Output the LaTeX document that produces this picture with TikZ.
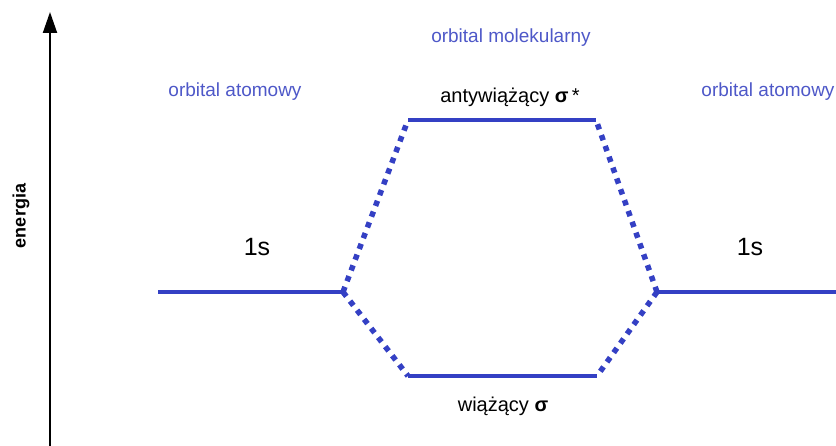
\documentclass[tikz,border=0pt]{standalone}
\usepackage{fontspec}
\setmainfont{Liberation Sans}
\usetikzlibrary{arrows.meta}
\definecolor{lineblue}{RGB}{52,64,196}
\definecolor{textblue}{RGB}{78,88,200}
\tikzset{
  level/.style={draw=lineblue, line width=4pt},
  link/.style={draw=lineblue, line width=5.5pt, dash pattern=on 5.5pt off 6pt},
  bluelabel/.style={text=textblue, font=\fontsize{19}{22}\selectfont, inner sep=0pt, anchor=base},
  blacklabel/.style={text=black, font=\fontsize{20}{24}\selectfont, inner sep=0pt, anchor=base},
  axis/.style={draw=black, line width=2pt, -{Triangle[width=14pt,length=21pt]}}
}
\begin{document}
\begin{tikzpicture}[x=1pt,y=-1pt]
\useasboundingbox (0,0) rectangle (836,446);
% energy axis
\coordinate (ax0) at (50,446);
\coordinate (ax1) at (50,12);
\draw[axis] (ax0) -- (ax1);
\node[rotate=90, font=\fontsize{18}{21}\selectfont\bfseries, inner sep=0pt] (en) at (21,216) {energia};
% levels
\coordinate (L1) at (158,292);
\coordinate (L2) at (343,292);
\coordinate (T1) at (408,120);
\coordinate (T2) at (596,120);
\coordinate (B1) at (408,376);
\coordinate (B2) at (597,376);
\coordinate (R1) at (657,292);
\coordinate (R2) at (840,292);
\draw[link] (L2) -- (T1);
\draw[link] (L2) -- (B1);
\draw[link] (R1) -- (T2);
\draw[link] (R1) -- (B2);
\draw[level] (L1) -- (L2);
\draw[level] (R1) -- (R2);
\draw[level] (T1) -- (T2);
\draw[level] (B1) -- (B2);
% labels
\node[bluelabel] (mo) at (511,43) {orbital molekularny};
\node[bluelabel] (aoL) at (235,97) {orbital atomowy};
\node[bluelabel] (aoR) at (768,97) {orbital atomowy};
\node[blacklabel] (anti) at (510,103) {antywiążący \textbf{σ}\,*};
\node[blacklabel] (bond) at (503,412) {wiążący \textbf{σ}};
\node[blacklabel, font=\fontsize{25}{30}\selectfont] (sL) at (257,256) {1s};
\node[blacklabel, font=\fontsize{25}{30}\selectfont] (sR) at (750,256) {1s};
\end{tikzpicture}
\end{document}
